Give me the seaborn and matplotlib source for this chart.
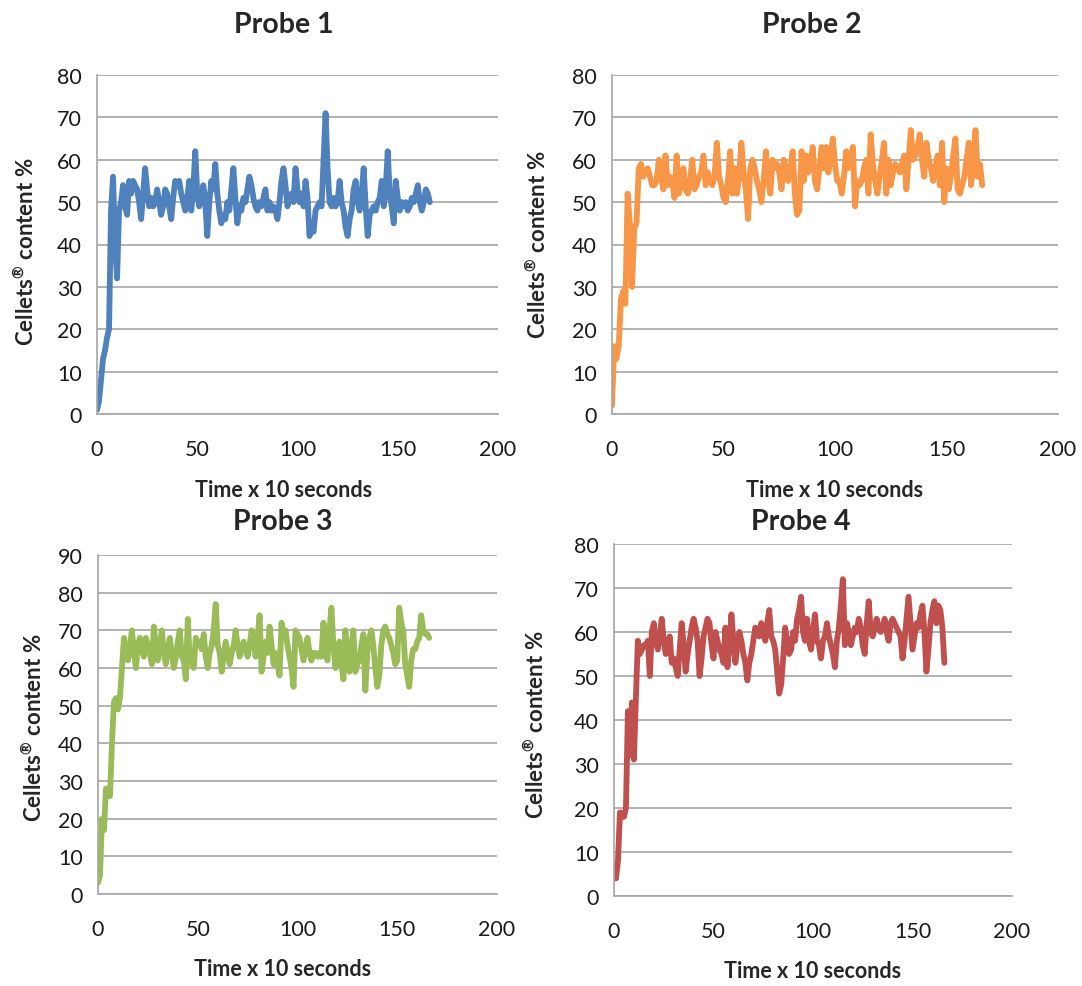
import numpy as np
import pandas as pd
import matplotlib
matplotlib.use("Agg")
import matplotlib.pyplot as plt
import seaborn as sns

# Time steps (x 10 seconds)
time = list(range(0, 167))

probe1 = [1, 3, 8, 13, 15, 18, 20, 48, 56, 40, 32, 48, 50, 54, 49, 47, 55, 52, 55, 54,
          53, 50, 46, 52, 58, 53, 49, 51, 49, 50, 53, 50, 47, 49, 53, 52, 49, 46, 51, 55,
          54, 55, 52, 50, 48, 51, 55, 48, 53, 62, 52, 49, 51, 54, 50, 42, 50, 55, 53, 59,
          52, 48, 45, 47, 46, 50, 48, 53, 58, 51, 45, 49, 48, 51, 50, 53, 56, 54, 51, 49,
          48, 50, 49, 51, 53, 48, 50, 48, 49, 48, 46, 50, 55, 58, 54, 49, 51, 52, 50, 58,
          53, 50, 52, 49, 55, 51, 42, 45, 43, 48, 49, 50, 49, 60, 71, 58, 50, 49, 51, 49,
          50, 55, 50, 48, 44, 42, 46, 48, 53, 55, 50, 48, 52, 58, 49, 42, 47, 48, 49, 48,
          50, 51, 55, 49, 53, 62, 52, 49, 45, 55, 51, 48, 50, 49, 50, 48, 49, 51, 50, 52,
          54, 50, 48, 50, 53, 52, 50]

probe2 = [2, 16, 13, 16, 27, 29, 26, 52, 45, 30, 44, 45, 58, 59, 56, 57, 58, 56, 54, 54,
          55, 60, 56, 53, 61, 54, 56, 55, 51, 61, 52, 55, 58, 53, 52, 55, 60, 53, 54, 56,
          57, 61, 54, 57, 55, 54, 56, 64, 56, 54, 51, 50, 55, 62, 52, 58, 52, 56, 64, 57,
          53, 46, 58, 60, 58, 55, 53, 50, 55, 62, 56, 52, 60, 58, 59, 57, 53, 60, 58, 55,
          58, 62, 52, 47, 48, 62, 55, 61, 57, 59, 63, 55, 53, 58, 63, 58, 63, 57, 60, 65,
          59, 55, 55, 52, 56, 62, 58, 60, 63, 49, 55, 54, 55, 58, 60, 52, 66, 59, 55, 52,
          56, 60, 64, 52, 60, 54, 57, 59, 58, 57, 59, 61, 53, 60, 67, 60, 61, 63, 66, 60,
          56, 64, 60, 58, 55, 58, 61, 54, 64, 50, 58, 53, 56, 61, 65, 53, 52, 54, 56, 60,
          64, 54, 59, 67, 56, 59, 54]

probe3 = [3, 5, 20, 17, 28, 27, 26, 40, 51, 52, 49, 52, 60, 68, 64, 62, 66, 70, 64, 60,
          66, 68, 65, 63, 68, 66, 64, 61, 71, 66, 62, 66, 70, 64, 61, 65, 68, 64, 60, 63,
          67, 70, 63, 62, 57, 73, 62, 61, 60, 68, 66, 67, 65, 69, 63, 60, 64, 66, 70, 77,
          66, 64, 59, 63, 67, 64, 61, 64, 66, 70, 66, 63, 65, 67, 65, 63, 66, 70, 67, 63,
          68, 74, 59, 63, 67, 64, 71, 66, 61, 64, 61, 58, 72, 68, 70, 66, 63, 60, 55, 70,
          69, 68, 65, 62, 65, 68, 64, 62, 64, 64, 63, 64, 63, 72, 66, 62, 70, 76, 66, 60,
          64, 67, 61, 57, 70, 63, 59, 66, 70, 59, 61, 62, 66, 69, 54, 64, 68, 70, 66, 60,
          55, 58, 66, 70, 71, 69, 68, 66, 64, 61, 62, 76, 72, 70, 61, 58, 55, 62, 65, 65,
          67, 68, 74, 70, 69, 69, 68]

probe4 = [4, 4, 8, 19, 18, 18, 20, 42, 32, 44, 31, 45, 58, 55, 56, 57, 57, 58, 50, 60,
          62, 58, 56, 59, 63, 58, 55, 57, 59, 53, 54, 52, 50, 56, 62, 57, 51, 55, 58, 61,
          63, 61, 58, 50, 54, 59, 61, 63, 62, 57, 54, 60, 58, 56, 55, 53, 61, 52, 57, 64,
          58, 53, 57, 60, 58, 55, 53, 49, 53, 55, 58, 61, 60, 59, 62, 60, 58, 62, 65, 59,
          58, 56, 51, 46, 48, 54, 61, 58, 55, 56, 60, 58, 63, 65, 68, 60, 58, 63, 58, 56,
          60, 64, 58, 57, 54, 58, 59, 62, 59, 57, 55, 52, 58, 61, 66, 72, 57, 62, 60, 57,
          59, 61, 60, 63, 61, 57, 55, 62, 67, 60, 59, 61, 63, 61, 60, 61, 63, 60, 58, 62,
          63, 62, 61, 60, 59, 54, 58, 63, 68, 62, 56, 59, 62, 61, 64, 66, 60, 51, 56, 62,
          65, 67, 62, 66, 65, 61, 53]

titles = ["Probe 1", "Probe 2", "Probe 3", "Probe 4"]
series = [probe1, probe2, probe3, probe4]
colors = ["#4F81BD", "#F79646", "#9BBB59", "#C0504D"]
y_max = [80, 80, 90, 80]

sns.set_style("white")
plt.rcParams["font.family"] = ["Lato", "DejaVu Sans"]
plt.rcParams["mathtext.fontset"] = "custom"
plt.rcParams["mathtext.rm"] = "Lato:bold"
plt.rcParams["mathtext.bf"] = "Lato:bold"

fig = plt.figure(figsize=(10.82, 9.87), dpi=100)
W, H = 1082, 987

# axes boxes in pixels: left, right, top, bottom
boxes = [(97, 498, 76, 415), (612, 1058, 76, 415), (98, 497, 556, 895), (614, 1012, 545, 897)]
title_pos = [(284, 25), (812, 25), (283, 522), (801, 522)]
xlabel_pos = [(284, 491), (835, 491), (283, 970), (813, 972)]
ylabel_pos = [(26, 252), (538, 245), (34, 728), (536, 725)]

grid_color = "#A6A6A6"

for i in range(4):
    l, r, t, b = boxes[i]
    ax = fig.add_axes([l / W, 1 - b / H, (r - l) / W, (b - t) / H])
    df = pd.DataFrame({"Time": time, "Content": series[i]})
    sns.lineplot(data=df, x="Time", y="Content", ax=ax, color=colors[i],
                 linewidth=4.2, solid_joinstyle="round", solid_capstyle="round")
    ax.set_xlim(0, 200)
    ax.set_ylim(0, y_max[i])
    ax.set_xticks([0, 50, 100, 150, 200])
    ax.set_yticks(list(range(0, y_max[i] + 1, 10)))
    ax.yaxis.grid(True, color=grid_color, linewidth=1.2)
    ax.xaxis.grid(False)
    ax.set_axisbelow(True)
    for s in ["top", "right"]:
        ax.spines[s].set_visible(False)
    for s in ["left", "bottom"]:
        ax.spines[s].set_color(grid_color)
        ax.spines[s].set_linewidth(1.2)
    ax.tick_params(axis="both", length=0, labelsize=15.5, colors="#1a1a1a")
    ax.tick_params(axis="y", pad=11)
    ax.tick_params(axis="x", pad=18)
    ax.set_xlabel("")
    ax.set_ylabel("")

    fig.text(title_pos[i][0] / W, 1 - title_pos[i][1] / H, titles[i],
             ha="center", va="center", fontsize=20.5, fontweight="bold")
    fig.text(xlabel_pos[i][0] / W, 1 - xlabel_pos[i][1] / H, "Time x 10 seconds",
             ha="center", va="center", fontsize=15.5, fontweight="bold")
    fig.text(ylabel_pos[i][0] / W, 1 - ylabel_pos[i][1] / H, "Cellets$^{®}$ content %",
             ha="center", va="center", rotation=90, fontsize=16, fontweight="bold")

plt.savefig("out.png", dpi=100)
